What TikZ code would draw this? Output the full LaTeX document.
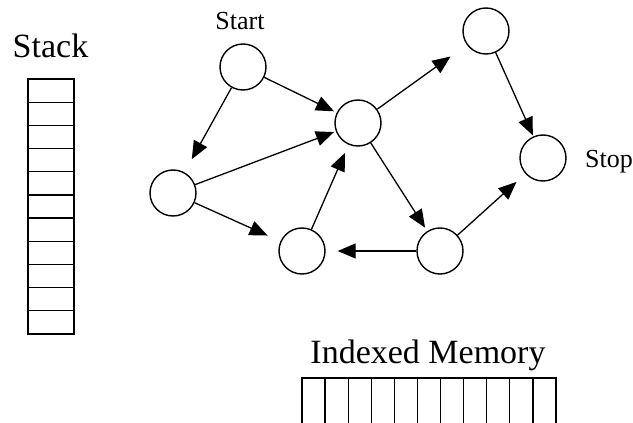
\documentclass[tikz,border=0pt]{standalone}
\usepackage{fontspec}
\setmainfont{Liberation Serif}
\usetikzlibrary{arrows.meta}
\begin{document}
\begin{tikzpicture}[x=1pt,y=-1pt,
  state/.style={circle,draw,line width=1.4pt,minimum size=46pt,inner sep=0pt},
  edge/.style={line width=1.3pt,-{Triangle[length=18pt,width=15pt]}},
  big/.style={inner sep=0pt,font=\fontsize{34}{40}\selectfont},
  small/.style={inner sep=0pt,font=\fontsize{26}{30}\selectfont},
  cell/.style={line width=1.3pt}]
\useasboundingbox (0,0) rectangle (633,423);
% graph nodes
\node[state] (S)  at (243,67) {};
\node[state] (C)  at (358,123) {};
\node[state] (L)  at (173,193) {};
\node[state] (BM) at (302,251) {};
\node[state] (BR) at (440,251) {};
\node[state] (TR) at (486,31) {};
\node[state] (ST) at (543,158) {};
% labels
\node[small,anchor=base] (startlbl) at (240,30) {Start};
\node[small,anchor=base west] (stoplbl) at (585,167) {Stop};
\node[big,anchor=base] (stacklbl) at (50.5,57) {Stack};
\node[big,anchor=base] (memlbl) at (428,363) {Indexed Memory};
% edges
\draw[edge,shorten >=3pt] (S) -- (C);
\draw[edge,shorten >=15pt] (S) -- (L);
\draw[edge,shorten >=2pt] (L) -- (C);
\draw[edge,shorten >=14pt] (L) -- (BM);
\draw[edge,shorten >=9pt] (BM) -- (C);
\draw[edge,shorten >=4pt] (C) -- (BR);
\draw[edge,shorten >=12pt] (BR) -- (BM);
\draw[edge,shorten >=20pt] (C) -- (TR);
\draw[edge,shorten >=1pt] (TR) -- (ST);
\draw[edge,shorten >=12pt] (BR) -- (ST);
% stack
\draw[cell] (28,79) rectangle (74,334);
\foreach \k in {1,...,10} {
  \draw[cell] (28,{79+\k*23.18}) -- (74,{79+\k*23.18});
}
% indexed memory
\draw[cell] (302,430) -- (302,378) -- (556,378) -- (556,430);
\foreach \k in {1,...,10} {
  \draw[cell] ({302+\k*23.09},378) -- ({302+\k*23.09},430);
}
\end{tikzpicture}
\end{document}
